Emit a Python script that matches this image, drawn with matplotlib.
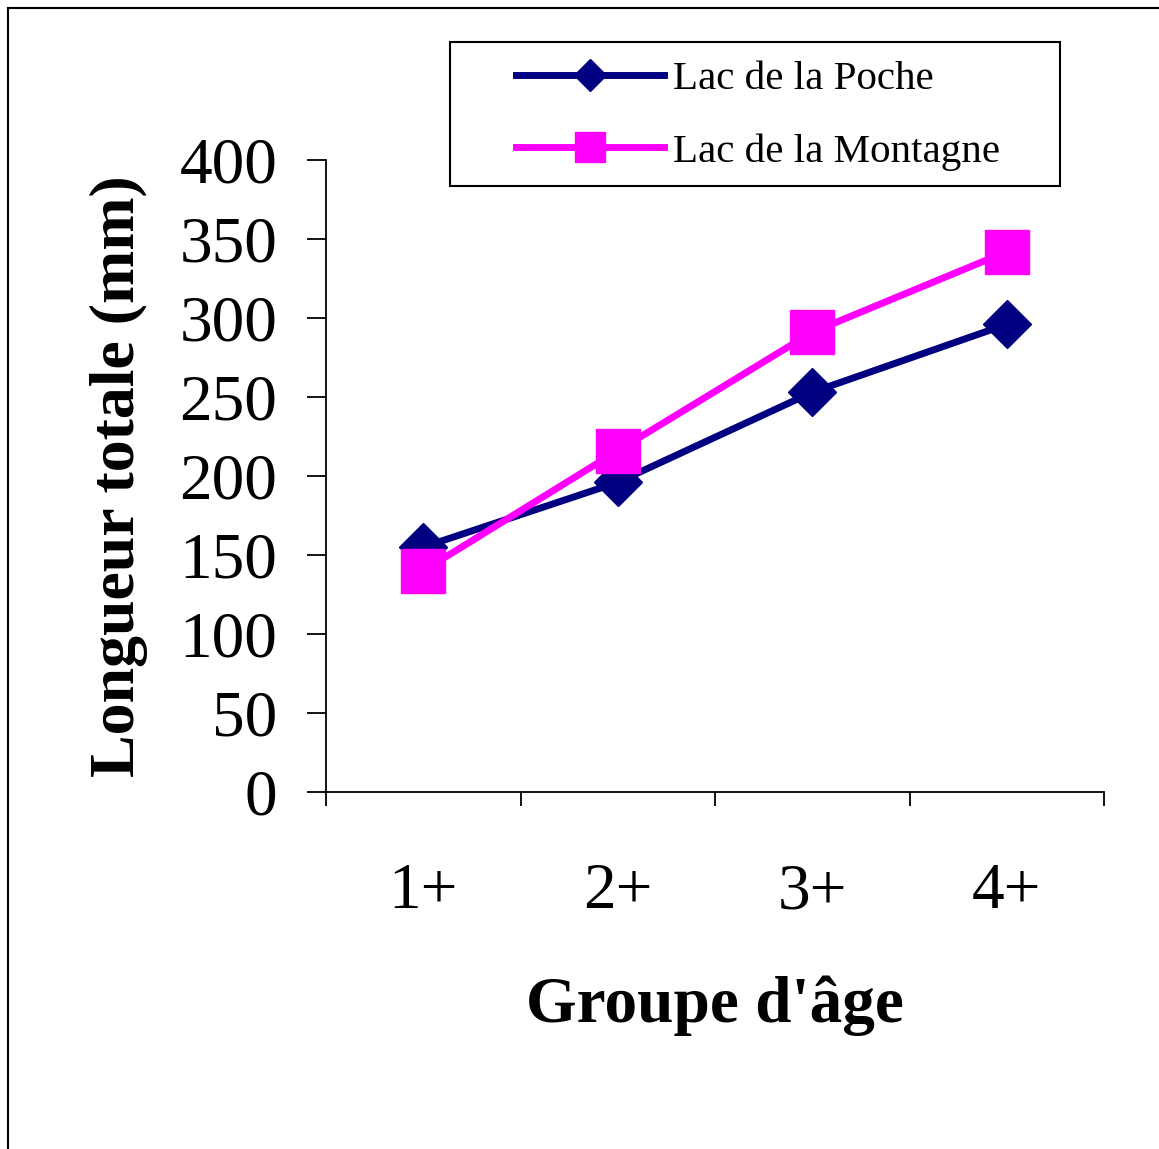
import matplotlib
matplotlib.use("Agg")
import matplotlib.pyplot as plt
from matplotlib.lines import Line2D
from matplotlib.patches import Rectangle

plt.rcParams['font.family'] = ['Liberation Serif', 'DejaVu Serif']

categories = ["1+", "2+", "3+", "4+"]
poche = [155, 196, 253, 296]
montagne = [140, 216, 291, 342]
yticks = [0, 50, 100, 150, 200, 250, 300, 350, 400]

W, H = 1159, 1149
fig = plt.figure(figsize=(W / 100, H / 100), dpi=100)
ax = fig.add_axes([326 / W, 1 - 792 / H, (1104 - 326) / W, (792 - 160) / H])
ax.patch.set_alpha(0)

x = list(range(1, len(categories) + 1))
ax.plot(x, poche, color='#000080', lw=5, marker='D', ms=24,
        markeredgecolor='#000080', markerfacecolor='#000080',
        solid_joinstyle='round', label='Lac de la Poche')
ax.plot(x, montagne, color='#FF00FF', lw=5, marker='s', ms=32,
        markeredgecolor='#FF00FF', markerfacecolor='#FF00FF',
        solid_joinstyle='round', label='Lac de la Montagne')

ax.set_ylim(0, 400)
ax.set_xlim(0.5, len(categories) + 0.5)
ax.set_yticks(yticks)
ax.set_yticklabels([str(v) for v in yticks])
ax.tick_params(axis='y', direction='out', length=14, width=1.3, pad=21, labelsize=47)

ax.set_xticks([i + 0.5 for i in range(0, len(categories) + 1)])
ax.set_xticklabels([])
ax.set_xticks(x, minor=True)
ax.set_xticklabels(categories, minor=True)
ax.tick_params(axis='x', which='major', direction='out', length=10, width=1.3)
ax.tick_params(axis='x', which='minor', length=0, pad=51, labelsize=47)

for s in ['top', 'right']:
    ax.spines[s].set_visible(False)
for s in ['left', 'bottom']:
    ax.spines[s].set_linewidth(1.3)

ax.set_ylabel('Longueur totale (mm)', fontsize=46, fontweight='bold', labelpad=23)
ax.set_xlabel("Groupe d'âge", fontsize=47, fontweight='bold', labelpad=38)

# legend box
box = Rectangle((450 / W, 1 - 186 / H), (1060 - 450) / W, (186 - 42) / H,
                transform=fig.transFigure, facecolor='white',
                edgecolor='black', lw=1.5, zorder=5)
fig.add_artist(box)
handles, labels = ax.get_legend_handles_labels()
leg = fig.legend(handles, labels, loc='upper left',
                 bbox_to_anchor=(500 / W, 1 - 44 / H),
                 bbox_transform=fig.transFigure, borderaxespad=0,
                 frameon=False, fontsize=29.5,
                 handlelength=3.6, markerscale=0.66, labelspacing=0.85,
                 borderpad=0.4, handletextpad=0.22)
leg.set_zorder(6)

fig.add_artist(Line2D([8 / W, 8 / W], [0, 1 - 8 / H], color='black', lw=1.5,
                      transform=fig.transFigure))
fig.add_artist(Line2D([8 / W, 1], [1 - 8 / H, 1 - 8 / H], color='black', lw=1.5,
                      transform=fig.transFigure))

fig.savefig('out.png', dpi=100)
